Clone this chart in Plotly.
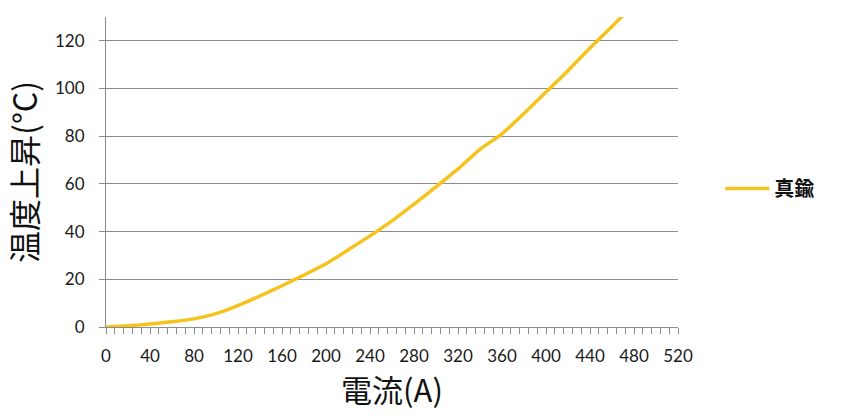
import plotly.graph_objects as go

# 電流 (A) と 温度上昇 (°C)
current_a = [0, 20, 40, 60, 80, 100, 120, 140, 160, 180, 200, 220, 240,
             260, 280, 300, 320, 340, 360, 380, 400, 420, 440, 460, 480]
temp_rise = [0, 0.5, 1.3, 2.2, 3.4, 5.6, 9.0, 13.0, 17.3, 21.8, 26.5, 32.3, 38.2,
             44.5, 51.5, 58.8, 66.3, 74.5, 81, 89.5, 98.5, 107.5, 117, 126, 135.5]
series_name = "真鍮"

LINE_COLOR = "#F5C31C"
GRID = "#8C8C8C"
CJK = "Noto Sans CJK JP"

fig = go.Figure()
fig.add_trace(go.Scatter(
    x=current_a,
    y=temp_rise,
    mode="lines",
    name=f"<b>{series_name}</b>",
    line=dict(color=LINE_COLOR, width=3.5, shape="spline", smoothing=0.6),
))

fig.update_layout(
    width=850,
    height=419,
    paper_bgcolor="white",
    plot_bgcolor="white",
    margin=dict(l=106, r=172, t=17, b=92),
    font=dict(family="Lato, sans-serif", size=17, color="#1a1a1a"),
    showlegend=True,
    legend=dict(
        x=1.074, y=0.447, xanchor="left", yanchor="middle",
        itemwidth=44,
        font=dict(family=CJK, size=20, color="#111111"),
        bgcolor="rgba(0,0,0,0)",
    ),
)

fig.update_xaxes(
    range=[0, 520],
    tick0=0, dtick=40,
    showgrid=False,
    showline=True, linecolor=GRID, linewidth=1,
    ticks="outside", ticklen=6, tickcolor=GRID,
    minor=dict(dtick=8, ticks="outside", ticklen=6, tickcolor=GRID, showgrid=False),
    ticklabelstandoff=8,
    zeroline=False,
    title=dict(text="電流(A)", font=dict(family=CJK, size=31, color="#111111"), standoff=5),
)

fig.update_yaxes(
    range=[0, 130],
    tick0=0, dtick=20,
    showgrid=True, gridcolor=GRID, gridwidth=1,
    showline=True, linecolor=GRID, linewidth=1,
    ticks="outside", ticklen=6, tickcolor=GRID,
    ticklabelstandoff=11,
    zeroline=False,
    title=dict(text="温度上昇(°C)", font=dict(family=CJK, size=32, color="#111111"), standoff=7),
)

# the page body has a default 8px margin; drop it so the chart sits at 0,0
fig.write_html(
    "out.html",
    config={"displayModeBar": False},
    post_script="document.body.style.margin = '0';",
)
